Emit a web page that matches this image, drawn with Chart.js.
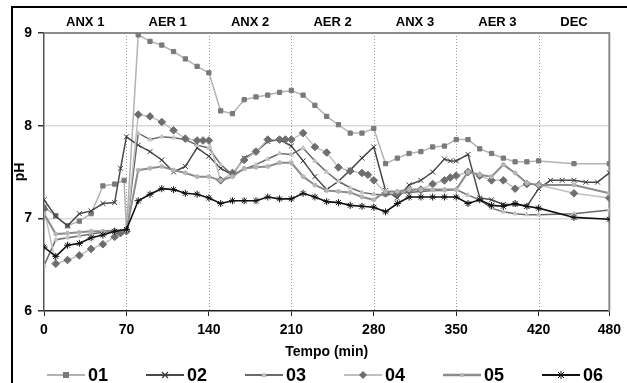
<!DOCTYPE html>
<html><head><meta charset="utf-8">
<script src="https://cdn.jsdelivr.net/npm/chart.js@4.4.1/dist/chart.umd.min.js"></script>
<style>
html,body{margin:0;padding:0;background:#fff;}
#wrap{position:relative;width:627px;height:383px;overflow:hidden;background:#fff;}
#frame{position:absolute;left:11px;top:6px;width:700px;height:500px;border-left:2px solid #000;border-top:2px solid #000;}
#c{position:absolute;left:0;top:0;}
.lg{position:absolute;top:365px;height:20px;display:flex;align-items:center;font:bold 18px "Liberation Sans",Arial,sans-serif;color:#000;white-space:nowrap;}
.lg svg{margin-right:3px;}
</style></head><body>
<div id="wrap"><div id="frame"></div><canvas id="c" width="627" height="383"></canvas><div id="legend"></div></div>
<script>
const seriesNames = ['01','02','03','04','05','06'];
const xTickValues = [0,70,140,210,280,350,420,480];
const yTickValues = [6,7,8,9];
const phaseLabels = ['ANX 1','AER 1','ANX 2','AER 2','ANX 3','AER 3','DEC'];
const phaseCenters = [35,105,175,245,315,385,450];
const phaseBounds = [70,140,210,280,350,420];

const tStd = [0,10,20,30,40,50,60,70,80,90,100,110,120,130,140,150,160,170,180,190,200,210,220,230,240,250,260,270,280,290,300,310,320,330,340,350,360,370,380,390,400,410,420,450,480];

const t01 = [0,10,20,30,40,50,60,68,70,80,90,100,110,120,130,140,150,160,170,180,190,200,210,220,230,240,250,260,270,280,290,300,310,320,330,340,350,360,370,380,390,400,410,420,450,480];
const ph01 = [7.12,7.03,6.92,6.97,7.05,7.35,7.37,7.41,6.87,8.98,8.91,8.87,8.80,8.72,8.64,8.57,8.16,8.13,8.28,8.31,8.33,8.36,8.38,8.33,8.22,8.10,8.01,7.92,7.92,7.97,7.59,7.65,7.70,7.72,7.77,7.78,7.85,7.85,7.75,7.70,7.65,7.61,7.61,7.62,7.59,7.59];

const t02 = [0,10,20,30,40,50,60,65,70,80,90,100,110,120,130,140,150,160,170,180,190,200,210,220,230,240,250,260,270,280,290,300,310,320,330,340,345,350,360,370,380,390,400,410,420,430,440,450,460,470,480];
const ph02 = [7.20,7.02,6.92,7.05,7.08,7.16,7.17,7.54,7.88, 7.79,7.72,7.63,7.50,7.56,7.76,7.67, 7.54,7.47,7.65,7.72,7.83,7.85,7.78, 7.62,7.45,7.31,7.40,7.52,7.65,7.77, 7.30,7.22,7.36,7.41,7.50,7.64,7.62,7.62, 7.69,7.22,7.20,7.15,7.15,7.13,7.32, 7.41,7.41,7.41,7.39,7.39,7.49];

const t03 = tStd;
const ph03 = [6.49,6.77,6.79,6.81,6.83,6.85,6.86,6.88, 7.92,7.85,7.88,7.87,7.85,7.79,7.76, 7.58,7.47,7.53,7.58,7.64,7.70,7.69, 7.76,7.62,7.50,7.40,7.33,7.28,7.26, 7.25,7.27,7.28,7.29,7.30,7.30,7.31, 7.25,7.20,7.11,7.07,7.05,7.04,7.04, 7.05,7.09];

const t04 = [0,10,20,30,40,50,60,65,70,80,90,100,110,120,130,135,140,150,160,170,180,190,200,205,210,220,230,240,250,260,270,275,280,290,300,310,320,330,340,345,350,360,370,380,390,400,410,420,450,480];
const ph04 = [7.10,6.51,6.55,6.60,6.67,6.72,6.80,6.84,6.86, 8.12,8.10,8.04,7.95,7.86,7.84,7.84,7.84, 7.41,7.49,7.63,7.72,7.85,7.85,7.85,7.85, 7.92,7.77,7.71,7.55,7.51,7.49,7.47,7.41, 7.27,7.27,7.30,7.31,7.37,7.41,7.44,7.46, 7.50,7.46,7.41,7.41,7.32,7.37,7.36, 7.27,7.22];

const t05 = tStd;
const ph05 = [7.05,6.83,6.84,6.85,6.86,6.86,6.87,6.87, 7.52,7.54,7.56,7.52,7.49,7.45,7.45, 7.41,7.45,7.54,7.55,7.56,7.60,7.60, 7.45,7.36,7.30,7.29,7.28,7.23,7.20, 7.29,7.29,7.31,7.31,7.31,7.31,7.31, 7.50,7.47,7.45,7.58,7.49,7.38,7.36, 7.36,7.27];

const t06 = tStd;
const ph06 = [6.69,6.59,6.71,6.73,6.79,6.82,6.86,6.88, 7.19,7.26,7.32,7.31,7.27,7.26,7.22, 7.16,7.19,7.19,7.19,7.23,7.21,7.21, 7.27,7.23,7.18,7.17,7.14,7.13,7.12, 7.07,7.16,7.23,7.23,7.23,7.23,7.23, 7.16,7.20,7.14,7.13,7.16,7.13,7.11, 7.01,6.99];

const seriesTimes = [t01,t02,t03,t04,t05,t06];
const seriesValues = [ph01,ph02,ph03,ph04,ph05,ph06];

const styles = [
  {line:'#b3b3b3', width:1.5, pt:'rect', r:3, fill:'#7a7a7a', stroke:'#7a7a7a', pbw:1},
  {line:'#4a4a4a', width:1.5, pt:'crossRot', r:3.5, fill:'#3a3a3a', stroke:'#3a3a3a', pbw:1},
  {line:'#6a6a6a', width:1.5, pt:'triangle', r:2.5, fill:'#c4c4c4', stroke:'#c4c4c4', pbw:1},
  {line:'#c0c0c0', width:1.5, pt:'rectRot', r:3.8, fill:'#6e6e6e', stroke:'#6e6e6e', pbw:1},
  {line:'#8c8c8c', width:2, pt:'circle', r:2, fill:'#b5b5b5', stroke:'#b5b5b5', pbw:1},
  {line:'#111111', width:1.6, pt:'star', r:3.5, fill:'#111', stroke:'#111', pbw:1}
];

Chart.defaults.font.family = '"Liberation Sans", Arial, sans-serif';
Chart.defaults.font.weight = 'bold';
Chart.defaults.color = '#000';

const datasets = seriesNames.map((n,i) => ({
  label: n,
  data: seriesTimes[i].map((t,k) => ({x:t, y:seriesValues[i][k]})),
  borderColor: styles[i].line,
  borderWidth: styles[i].width,
  pointStyle: styles[i].pt,
  pointRadius: styles[i].r,
  pointBackgroundColor: styles[i].fill,
  pointBorderColor: styles[i].stroke,
  pointBorderWidth: styles[i].pbw,
  tension: 0,
  fill: false,
  order: 5 - i
}));

const framePlugin = {
  id: 'frameLines',
  beforeDatasetsDraw(chart) {
    const {ctx, chartArea: a, scales: {x}} = chart;
    ctx.save();
    ctx.strokeStyle = '#9a9a9a'; ctx.lineWidth = 1; ctx.setLineDash([1,2]);
    phaseBounds.forEach(v => {
      const px = Math.round(x.getPixelForValue(v)) + 0.5;
      ctx.beginPath(); ctx.moveTo(px, a.top); ctx.lineTo(px, a.bottom); ctx.stroke();
    });
    ctx.setLineDash([]);
    ctx.strokeStyle = '#8c8c8c'; ctx.lineWidth = 2;
    ctx.beginPath(); ctx.moveTo(a.left, a.top); ctx.lineTo(a.right, a.top); ctx.lineTo(a.right, a.bottom); ctx.stroke();
    ctx.restore();
  }
};

new Chart(document.getElementById('c'), {
  type: 'line',
  data: { datasets },
  options: {
    responsive: false, animation: false, devicePixelRatio: 1,
    layout: { padding: { left: 0, right: 10, top: 0, bottom: 0 } },
    plugins: { legend: { display: false }, tooltip: { enabled: false } },
    scales: {
      x: { type: 'linear', position: 'bottom', min: 0, max: 480,
        afterBuildTicks: s => { s.ticks = xTickValues.map(v => ({value: v})); },
        afterFit: s => { s.height = 72; },
        ticks: { autoSkip: false, maxRotation: 0, padding: 6, color: '#000', font: {size: 14, weight: 'bold'} },
        grid: { drawOnChartArea: false, drawTicks: true, tickLength: 5, color: '#222', tickColor: '#222' },
        border: { display: true, color: '#222', width: 1.5 },
        title: { display: true, text: 'Tempo (min)', color: '#000', font: {size: 14, weight: 'bold'}, padding: {top: 0, bottom: 22} } },
      x2: { type: 'linear', position: 'top', min: 0, max: 480,
        afterBuildTicks: s => { s.ticks = phaseCenters.map(v => ({value: v})); },
        afterFit: s => { s.height = 33; },
        ticks: { autoSkip: false, maxRotation: 0, padding: 3, color: '#000', font: {size: 13, weight: 'bold'}, callback: (v, i) => phaseLabels[i] },
        grid: { display: false, drawTicks: false }, border: { display: false } },
      y: { type: 'linear', min: 6, max: 9,
        afterBuildTicks: s => { s.ticks = yTickValues.map(v => ({value: v})); },
        afterFit: s => { s.width = 44; },
        ticks: { padding: 6, color: '#000', font: {size: 14, weight: 'bold'} },
        grid: { color: c => (c.tick && (c.tick.value === 7 || c.tick.value === 8)) ? '#dadada' : 'rgba(0,0,0,0)', tickColor: '#333', tickLength: 6, lineWidth: 1.5 },
        border: { color: '#555', width: 1.5 },
        title: { display: true, text: 'pH', color: '#000', font: {size: 14, weight: 'bold'}, padding: {top: 12, bottom: 0} } }
    }
  },
  plugins: [framePlugin]
});

function markerSvg(st) {
  const cx = 19, cy = 8;
  switch (st.pt) {
    case 'rect': return `<rect x="${cx-3}" y="${cy-3}" width="6" height="6" fill="${st.fill}"/>`;
    case 'crossRot': return `<path d="M${cx-3} ${cy-3}L${cx+3} ${cy+3}M${cx+3} ${cy-3}L${cx-3} ${cy+3}" stroke="${st.stroke}" stroke-width="1.2"/>`;
    case 'triangle': return `<path d="M${cx} ${cy-3}L${cx+3} ${cy+2}L${cx-3} ${cy+2}Z" fill="${st.fill}"/>`;
    case 'rectRot': return `<path d="M${cx} ${cy-4}L${cx+4} ${cy}L${cx} ${cy+4}L${cx-4} ${cy}Z" fill="${st.fill}"/>`;
    case 'circle': return `<circle cx="${cx}" cy="${cy}" r="2" fill="${st.fill}"/>`;
    default: return `<path d="M${cx-3} ${cy-3}L${cx+3} ${cy+3}M${cx+3} ${cy-3}L${cx-3} ${cy+3}M${cx} ${cy-4}L${cx} ${cy+4}M${cx-4} ${cy}L${cx+4} ${cy}" stroke="${st.stroke}" stroke-width="1"/>`;
  }
}
const legendEl = document.getElementById('legend');
seriesNames.forEach((n, i) => {
  const st = styles[i];
  const d = document.createElement('div');
  d.className = 'lg';
  d.style.left = (47 + i * 99) + 'px';
  d.innerHTML = `<svg width="38" height="16" viewBox="0 0 38 16"><line x1="0" y1="8" x2="38" y2="8" stroke="${st.line}" stroke-width="${st.width + 0.5}"/>${markerSvg(st)}</svg><span>${n}</span>`;
  legendEl.appendChild(d);
});
</script>
</body></html>
